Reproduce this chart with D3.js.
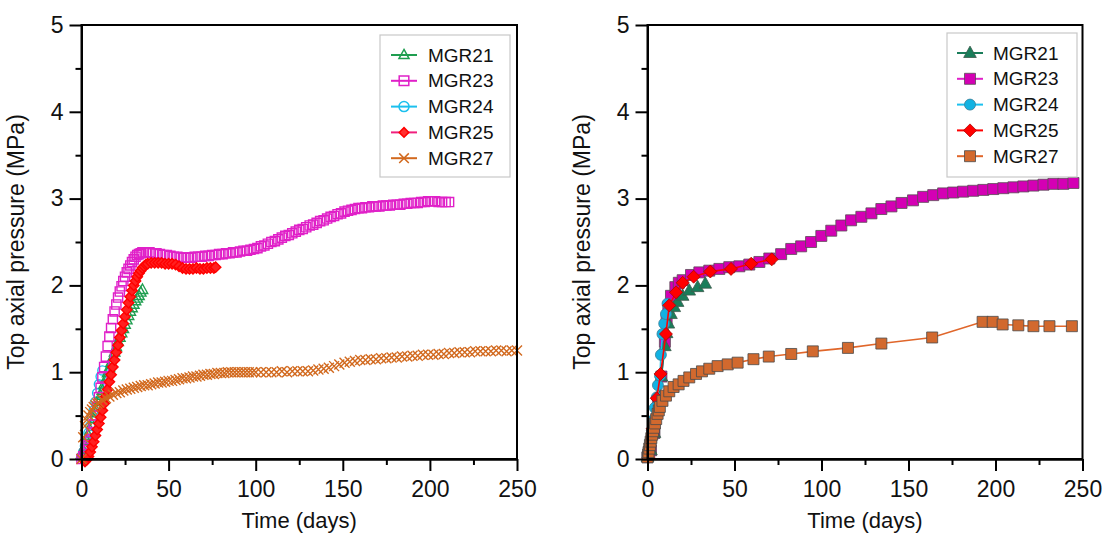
<!DOCTYPE html>
<html lang="en">
<head>
  <meta charset="UTF-8">
  <title>Top axial pressure</title>
  <style>
    body { margin: 0; background: #fff; }
    text { font-family: "Liberation Sans", Arial, sans-serif; fill: #111; }
  </style>
</head>
<body>
  <script src="https://cdn.jsdelivr.net/npm/d3@7"></script>
  <script>
// 画布大小
const width = 1102;
const height = 535;

// ---- 数据 (左图: 原始测量数据, [天, MPa]) ----
const names = ['MGR21', 'MGR23', 'MGR24', 'MGR25', 'MGR27'];

const leftMGR21 = [[0,0.05],[1,0.1],[2,0.15],[3,0.21],[4,0.27],[5,0.33],[6,0.4],[7,0.46],[8,0.53],[9,0.6],[10,0.66],
  [11,0.73],[12,0.79],[13,0.86],[14,0.92],[15,0.99],[16,1.05],[17,1.11],[18,1.17],[19,1.23],[20,1.29],[21,1.35],
  [22,1.4],[23,1.45],[24,1.5],[25,1.55],[26,1.6],[27,1.65],[28,1.7],[29,1.74],[30,1.78],[31,1.82],[32,1.85],
  [33,1.88],[34,1.92],[35,1.95]];

const leftMGR23 = [[0,0.0],[1,0.03],[2,0.06],[3,0.1],[4,0.16],[5,0.23],[6,0.31],[7,0.4],[8,0.5],[9,0.6],[10,0.71],
  [11,0.82],[12,0.94],[13,1.06],[14,1.18],[15,1.3],[16,1.41],[17,1.51],[18,1.61],[19,1.7],[20,1.78],[21,1.86],
  [22,1.93],[23,1.99],[24,2.05],[25,2.1],[26,2.15],[27,2.19],[28,2.23],[29,2.27],[30,2.3],[31,2.33],[32,2.35],
  [33,2.36],[34,2.37],[35,2.38],[37,2.38],[39,2.38],[41,2.37],[43,2.37],[45,2.36],[47,2.35],[49,2.35],[51,2.34],
  [53,2.33],[55,2.33],[57,2.32],[59,2.32],[61,2.32],[63,2.32],[65,2.33],[67,2.33],[69,2.33],[71,2.34],[73,2.34],
  [75,2.35],[77,2.35],[79,2.36],[81,2.36],[83,2.37],[85,2.37],[87,2.38],[89,2.38],[91,2.39],[93,2.4],[95,2.4],
  [97,2.41],[99,2.42],[101,2.43],[103,2.45],[105,2.46],[107,2.48],[109,2.5],[111,2.51],[113,2.53],[115,2.55],
  [117,2.57],[119,2.58],[121,2.6],[123,2.62],[125,2.64],[127,2.65],[129,2.67],[131,2.69],[133,2.7],[135,2.72],
  [137,2.74],[139,2.75],[141,2.77],[143,2.79],[145,2.8],[147,2.82],[149,2.83],[151,2.85],[153,2.86],[155,2.87],
  [157,2.88],[159,2.89],[161,2.89],[163,2.9],[165,2.9],[167,2.91],[169,2.91],[171,2.91],[173,2.92],[175,2.92],
  [177,2.92],[179,2.93],[181,2.93],[183,2.93],[185,2.94],[187,2.94],[189,2.95],[191,2.95],[193,2.95],[195,2.96],
  [197,2.96],[199,2.97],[201,2.97],[203,2.97],[205,2.96],[207,2.96],[209,2.96],[211,2.96]];

const leftMGR24 = [[0,0.03],[1,0.08],[2,0.15],[3,0.22],[4,0.3],[5,0.38],[6,0.47],[7,0.56],[8,0.66],[9,0.76],
  [10,0.86],[11,0.95],[12,1.02]];

const leftMGR25 = [[2,-0.03],[3,-0.01],[4,0.03],[5,0.08],[6,0.14],[7,0.2],[8,0.27],[9,0.34],[10,0.41],[11,0.48],
  [12,0.56],[13,0.64],[14,0.72],[15,0.8],[16,0.89],[17,0.97],[18,1.06],[19,1.14],[20,1.23],[21,1.31],[22,1.4],
  [23,1.48],[24,1.56],[25,1.64],[26,1.72],[27,1.8],[28,1.87],[29,1.94],[30,2.0],[31,2.05],[32,2.1],[33,2.14],
  [34,2.17],[35,2.2],[36,2.22],[37,2.24],[38,2.25],[40,2.26],[42,2.26],[44,2.26],[46,2.26],[48,2.25],[50,2.25],
  [52,2.25],[54,2.24],[56,2.22],[58,2.2],[60,2.19],[62,2.19],[64,2.19],[66,2.2],[68,2.19],[70,2.19],[72,2.2],
  [74,2.2],[76,2.2],[77,2.21]];

const leftMGR27 = [[0,0.0],[1,0.25],[2,0.38],[3,0.45],[4,0.5],[5,0.54],[6,0.57],[7,0.6],[8,0.62],[9,0.64],[10,0.65],
  [12,0.68],[14,0.7],[16,0.72],[18,0.74],[20,0.76],[22,0.77],[24,0.79],[26,0.8],[28,0.81],[30,0.82],[32,0.83],
  [34,0.84],[36,0.85],[38,0.85],[40,0.86],[42,0.87],[44,0.88],[46,0.88],[48,0.89],[50,0.9],[52,0.9],[54,0.91],
  [56,0.92],[58,0.93],[60,0.93],[62,0.94],[64,0.95],[66,0.95],[68,0.96],[70,0.97],[72,0.97],[74,0.98],[76,0.98],
  [78,0.99],[80,0.99],[82,0.99],[84,1.0],[86,1.0],[88,1.0],[90,1.0],[92,1.0],[94,1.0],[96,1.0],[98,1.0],[100,1.0],
  [103,1.0],[106,1.0],[109,1.0],[112,1.0],[115,1.01],[118,1.0],[121,1.01],[124,1.01],[127,1.01],[130,1.01],
  [133,1.02],[136,1.03],[139,1.04],[142,1.05],[145,1.07],[148,1.09],[151,1.11],[154,1.12],[157,1.13],[160,1.14],
  [163,1.14],[166,1.15],[169,1.15],[172,1.16],[175,1.16],[178,1.17],[181,1.17],[184,1.18],[187,1.18],[190,1.19],
  [193,1.19],[196,1.2],[199,1.2],[202,1.2],[205,1.21],[208,1.21],[211,1.22],[214,1.22],[217,1.23],[220,1.23],
  [223,1.23],[226,1.24],[229,1.24],[232,1.24],[235,1.24],[238,1.25],[241,1.25],[244,1.24],[247,1.25],[250,1.25]];

// ---- 数据 (右图) ----
const rightMGR21 = [[0,0.02],[2,0.1],[4,0.3],[6,0.6],[8,0.95],[10,1.3],[11,1.45],[12,1.56],[13.5,1.67],[15.4,1.75],
  [17.3,1.81],[20.2,1.88],[24,1.94],[28.8,1.98],[33.2,2.02]];

const rightMGR23 = [[0,0.02],[2,0.1],[4,0.3],[6,0.6],[8,0.95],[10,1.35],[11,1.6],[12,1.75],[13.5,1.88],[16,1.98],
  [18,2.03],[20.2,2.06],[25,2.12],[29.8,2.15],[35.5,2.17],
  [41.3,2.19],[47,2.21],[52.8,2.22],[58.5,2.24],[64.3,2.27],[70,2.31],[76.8,2.36],[82.6,2.42],[88.3,2.45],[94,2.5],
  [99.9,2.57],[105.6,2.63],[111.4,2.69],[117,2.75],[122.9,2.79],[128.7,2.83],[134.4,2.88],[140.2,2.91],[146,2.95],
  [152.6,2.98],[158.4,3.02],[164.2,3.04],[169.9,3.06],[175.7,3.07],[181.4,3.08],[187.2,3.09],[193,3.1],[198.7,3.11],
  [204.5,3.12],[210.3,3.13],[216,3.14],[221.8,3.15],[227.6,3.16],[233.3,3.17],[239,3.17],[244.8,3.18]];

const rightMGR24 = [[0.3,0.05],[1,0.12],[1.8,0.22],[2.5,0.33],[3.3,0.45],[4.2,0.59],[5.3,0.71],[6,0.85],[7.2,0.96],
  [7.7,1.2],[8.6,1.44],[9.6,1.56],[10.6,1.67],[11.5,1.79]];

const rightMGR25 = [[0.5,0.02],[3,0.35],[5.3,0.7],[7.5,0.98],[10.6,1.44],[12.5,1.77],[16.4,1.92],[20.2,2.03],
  [26.5,2.1],[36.1,2.16],[48,2.19],[59.6,2.25],[71.4,2.3]];

const rightMGR27 = [[0,0.02],[0.3,0.05],[0.6,0.08],[1,0.12],[1.4,0.16],[1.8,0.2],[2.2,0.24],[2.7,0.28],[3.2,0.32],
  [3.7,0.36],[4.3,0.41],[5,0.46],[5.8,0.52],[6.5,0.56],[7.1,0.6],[8.6,0.67],[10.6,0.73],[12.5,0.78],[15,0.83],
  [17.9,0.86],[20.7,0.9],[24,0.94],[27.9,0.98],[31.3,1.01],[35.5,1.04],[40.3,1.07],[46.1,1.09],[51.8,1.11],
  [60.9,1.15],[69.7,1.18],[82.6,1.21],[95,1.24],[115.2,1.28],[134.4,1.33],[163.6,1.4],[192.6,1.58],[198.4,1.58],
  [204.1,1.55],[213.1,1.54],[221.8,1.53],[231,1.53],[243.9,1.53]];

// 刻度
const xMajor = [0, 50, 100, 150, 200, 250];
const xMinor = [25, 75, 125, 175, 225];
const yMajor = [0, 1, 2, 3, 4, 5];
const yMinor = [0.5, 1.5, 2.5, 3.5, 4.5];

// ---- 样式 ----
const colors = {
  left:  { MGR21: '#1f9e50', MGR23: '#e020c8', MGR24: '#1cc0ee', MGR25: '#ff0000', MGR27: '#d2691e' },
  right: { MGR21: '#1a7d5a', MGR23: '#d400b4', MGR24: '#12b2e2', MGR25: '#ff0000', MGR27: '#d2692e' }
};
const lineColors = {
  left:  { MGR21: '#1f9e50', MGR23: '#e020c8', MGR24: '#1cc0ee', MGR25: '#f0207e', MGR27: '#d2691e' },
  right: { MGR21: '#1a7d5a', MGR23: '#e020c8', MGR24: '#1cc0ee', MGR25: '#ff0000', MGR27: '#e0662a' }
};
const symbols = { MGR21: 'triangle', MGR23: 'square', MGR24: 'circle', MGR25: 'diamond', MGR27: 'cross' };
const symbolsRight = { MGR21: 'triangle', MGR23: 'square', MGR24: 'circle', MGR25: 'diamond', MGR27: 'square' };

// 标记形状
function symbolPath(type, r) {
  switch (type) {
    case 'square': return `M${-r},${-r}h${2*r}v${2*r}h${-2*r}Z`;
    case 'triangle': return `M0,${-r*1.15}L${r*1.05},${r*0.75}L${-r*1.05},${r*0.75}Z`;
    case 'diamond': return `M0,${-r}L${r},0L0,${r}L${-r},0Z`;
    case 'cross': return `M${-r},${-r}L${r},${r}M${-r},${r}L${r},${-r}`;
    default: return `M${r},0A${r},${r} 0 1,1 ${-r},0A${r},${r} 0 1,1 ${r},0Z`;
  }
}

const svg = d3.select('body').append('svg')
  .attr('width', width)
  .attr('height', height);

const yScale = d3.scaleLinear().domain([0, 5]).range([459, 25]);

function drawFrame(xScale, labelX) {
  const g = svg.append('g');
  // 边框
  g.append('rect')
    .attr('x', xScale(0)).attr('y', yScale(5))
    .attr('width', xScale(250) - xScale(0)).attr('height', yScale(0) - yScale(5))
    .attr('fill', 'none').attr('stroke', '#000').attr('stroke-width', 2);

  g.append('g').attr('transform', `translate(0,${yScale(0)})`)
    .call(d3.axisBottom(xScale).tickValues(xMajor).tickSize(12).tickSizeOuter(0).tickPadding(10)
      .tickFormat(d3.format('d')));
  g.append('g').attr('transform', `translate(0,${yScale(0)})`)
    .call(d3.axisBottom(xScale).tickValues(xMinor).tickSize(6).tickSizeOuter(0).tickFormat(''));
  g.append('g').attr('transform', `translate(${xScale(0)},0)`)
    .call(d3.axisLeft(yScale).tickValues(yMajor).tickSize(12).tickSizeOuter(0).tickPadding(6)
      .tickFormat(d3.format('d')));
  g.append('g').attr('transform', `translate(${xScale(0)},0)`)
    .call(d3.axisLeft(yScale).tickValues(yMinor).tickSize(6).tickSizeOuter(0).tickFormat(''));

  g.selectAll('.domain, .tick line').attr('stroke', '#000').attr('stroke-width', 2);
  g.selectAll('.tick text').attr('font-size', 23).attr('fill', '#111')
    .style('font-family', '"Liberation Sans", Arial, sans-serif');

  g.append('text')
    .attr('x', (xScale(0) + xScale(250)) / 2).attr('y', 528)
    .attr('text-anchor', 'middle').attr('font-size', 22)
    .text('Time (days)');
  g.append('text')
    .attr('transform', `translate(${labelX},${(yScale(0) + yScale(5)) / 2}) rotate(-90)`)
    .attr('text-anchor', 'middle').attr('font-size', 23)
    .text('Top axial pressure (MPa)');
  return g;
}

// ---- 左图 ----
const xLeft = d3.scaleLinear().domain([0, 250]).range([81.5, 517]);
const leftSeries = { MGR21: leftMGR21, MGR23: leftMGR23, MGR24: leftMGR24, MGR25: leftMGR25, MGR27: leftMGR27 };
const leftSize = { MGR21: 5, MGR23: 4.6, MGR24: 4.6, MGR25: 5.2, MGR27: 5 };

const gLeft = svg.append('g');
['MGR24', 'MGR21', 'MGR23', 'MGR25', 'MGR27'].forEach(name => {
  gLeft.selectAll(`.pl-${name}`)
    .data(leftSeries[name])
    .enter()
    .append('path')
    .attr('class', `pl-${name}`)
    .attr('transform', d => `translate(${xLeft(d[0])},${yScale(d[1])})`)
    .attr('d', symbolPath(symbols[name], leftSize[name]))
    .attr('fill', name === 'MGR25' ? '#ff2020' : 'none')
    .attr('stroke', colors.left[name])
    .attr('stroke-width', 1.4);
});
drawFrame(xLeft, 24);

// ---- 右图 ----
const xRight = d3.scaleLinear().domain([0, 250]).range([647.5, 1082.5]);
const rightSeries = { MGR21: rightMGR21, MGR23: rightMGR23, MGR24: rightMGR24, MGR25: rightMGR25, MGR27: rightMGR27 };
const rightSize = { MGR21: 6, MGR23: 5.5, MGR24: 5.5, MGR25: 6.5, MGR27: 5.5 };
const rightStroke = { MGR21: '#3d5a4c', MGR23: '#5a4a55', MGR24: '#3a7f98', MGR25: '#b00000', MGR27: '#4a4a4a' };

const line = d3.line().x(d => xRight(d[0])).y(d => yScale(d[1]));
const gRight = svg.append('g');
['MGR23', 'MGR21', 'MGR24', 'MGR25', 'MGR27'].forEach(name => {
  gRight.append('path')
    .datum(rightSeries[name])
    .attr('d', line)
    .attr('fill', 'none')
    .attr('stroke', lineColors.right[name])
    .attr('stroke-width', 1.6);
  gRight.selectAll(`.pr-${name}`)
    .data(rightSeries[name])
    .enter()
    .append('path')
    .attr('class', `pr-${name}`)
    .attr('transform', d => `translate(${xRight(d[0])},${yScale(d[1])})`)
    .attr('d', symbolPath(symbolsRight[name], rightSize[name]))
    .attr('fill', colors.right[name])
    .attr('stroke', rightStroke[name])
    .attr('stroke-width', 0.8);
});
drawFrame(xRight, 590);

// ---- 图例 ----
function legend(x0, y0, w, h, lineX1, lineX2, textX, side) {
  const g = svg.append('g');
  g.append('rect').attr('x', x0).attr('y', y0).attr('width', w).attr('height', h)
    .attr('fill', '#fff').attr('stroke', '#c8c8c8').attr('stroke-width', 1.2);
  names.forEach((name, i) => {
    const y = y0 + 20 + i * 25.8;
    g.append('line').attr('x1', lineX1).attr('x2', lineX2).attr('y1', y).attr('y2', y)
      .attr('stroke', lineColors[side][name]).attr('stroke-width', 2);
    const cx = (lineX1 + lineX2) / 2;
    if (side === 'left') {
      g.append('path').attr('transform', `translate(${cx},${y})`)
        .attr('d', symbolPath(symbols[name], name === 'MGR24' ? 5 : 4.8))
        .attr('fill', name === 'MGR25' ? '#ff3030' : 'none')
        .attr('stroke', colors.left[name]).attr('stroke-width', 1.5);
    } else {
      g.append('path').attr('transform', `translate(${cx},${y})`)
        .attr('d', symbolPath(symbolsRight[name], rightSize[name]))
        .attr('fill', colors.right[name])
        .attr('stroke', rightStroke[name]).attr('stroke-width', 0.8);
    }
    g.append('text').attr('x', textX).attr('y', y).attr('dy', '0.35em')
      .attr('font-size', 19).text(name);
  });
}
legend(380, 35, 130, 142, 391, 417, 428, 'left');
legend(947, 33, 130, 144, 957, 983, 993, 'right');
  </script>
</body>
</html>
